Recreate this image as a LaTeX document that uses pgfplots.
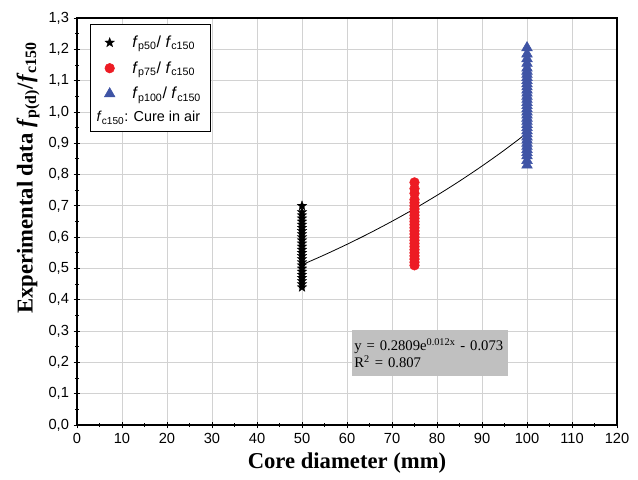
\documentclass[border=0pt]{standalone}
\usepackage{pgfplots}
\pgfplotsset{compat=1.18}
\usepackage{fontspec}
\setmainfont{Liberation Serif}
\setsansfont{Liberation Sans}
\newfontfamily\arial{Liberation Sans}
\definecolor{myred}{RGB}{237,28,36}
\definecolor{myblue}{RGB}{63,84,165}
\definecolor{boxgray}{RGB}{192,192,192}
\definecolor{gridgray}{RGB}{210,210,210}
\pgfdeclareplotmark{fstar}{%
  \pgfpathmoveto{\pgfpointpolar{90}{\pgfplotmarksize}}%
  \pgfpathlineto{\pgfpointpolar{126}{0.42\pgfplotmarksize}}%
  \pgfpathlineto{\pgfpointpolar{162}{\pgfplotmarksize}}%
  \pgfpathlineto{\pgfpointpolar{198}{0.42\pgfplotmarksize}}%
  \pgfpathlineto{\pgfpointpolar{234}{\pgfplotmarksize}}%
  \pgfpathlineto{\pgfpointpolar{270}{0.42\pgfplotmarksize}}%
  \pgfpathlineto{\pgfpointpolar{306}{\pgfplotmarksize}}%
  \pgfpathlineto{\pgfpointpolar{342}{0.42\pgfplotmarksize}}%
  \pgfpathlineto{\pgfpointpolar{18}{\pgfplotmarksize}}%
  \pgfpathlineto{\pgfpointpolar{54}{0.42\pgfplotmarksize}}%
  \pgfpathclose
  \pgfusepathqfillstroke
}
\begin{document}
\begin{tikzpicture}
\useasboundingbox (-57.75pt,-40.5pt) rectangle (420.75pt,318.75pt);
\begin{axis}[
  scale only axis, width=405pt, height=305.25pt,
  at={(0,0)}, anchor=south west,
  xmin=0, xmax=120, ymin=0, ymax=1.3,
  xtick={0,10,...,120},
  ytick={0,0.1,0.2,0.3,0.4,0.5,0.6,0.7,0.8,0.9,1.0,1.1,1.2,1.3},
  minor x tick num=1, minor y tick num=1,
  tick pos=left, tick align=center,
  major tick length=5pt, minor tick length=3pt,
  every tick/.style={black, line width=0.6pt},
  axis line style={black, line width=0.9pt},
  grid=major,
  major grid style={gridgray, line width=0.6pt},
  /pgf/number format/assume math mode=true,
  ticklabel style={font=\arial\fontsize{11}{13}\selectfont},
  yticklabel style={/pgf/number format/.cd, fixed, fixed zerofill, precision=1, use comma},
  xticklabel style={/pgf/number format/.cd, fixed, precision=0},
  xlabel={Core diameter (mm)},
  ylabel={Experimental data \textit{f}\textsubscript{p(d)}/\textit{f}\textsubscript{c150}},
  label style={font=\fontsize{17}{20}\selectfont\bfseries},
  ylabel style={at={(ticklabel cs:0.607)}},
  legend style={at={(axis cs:4.1,1.278)}, anchor=north west, draw=none, fill=none,
    font=\arial\fontsize{12}{14}\selectfont, row sep=5pt, column sep=11pt,
    inner xsep=6.5pt, inner ysep=6pt},
  legend cell align=left,
]
\addplot[only marks, mark=fstar, mark size=3.8pt, black, line width=0.2pt] coordinates {
(50,0.44)(50,0.45)(50,0.46)(50,0.47)(50,0.48)(50,0.49)(50,0.50)(50,0.51)(50,0.52)(50,0.53)(50,0.54)(50,0.55)(50,0.56)(50,0.57)(50,0.58)(50,0.59)(50,0.60)(50,0.61)(50,0.62)(50,0.63)(50,0.64)(50,0.65)(50,0.66)(50,0.67)(50,0.68)(50,0.70)
};
\addlegendentry{\textit{f}\textsubscript{p50}/ \textit{f}\textsubscript{c150}}
\addplot[only marks, mark=*, mark size=3.6pt, myred, mark options={draw=myred, fill=myred}] coordinates {
(75,0.51)(75,0.52)(75,0.53)(75,0.54)(75,0.55)(75,0.56)(75,0.57)(75,0.58)(75,0.59)(75,0.60)(75,0.61)(75,0.62)(75,0.63)(75,0.64)(75,0.65)(75,0.66)(75,0.67)(75,0.68)(75,0.69)(75,0.70)(75,0.71)(75,0.72)(75,0.74)(75,0.755)(75,0.775)
};
\addlegendentry{\textit{f}\textsubscript{p75}/ \textit{f}\textsubscript{c150}}
\addplot[only marks, mark=triangle*, mark size=4.6pt, myblue, mark options={draw=myblue, fill=myblue}] coordinates {
(100,0.83)(100,0.845)(100,0.86)(100,0.87)(100,0.88)(100,0.89)(100,0.90)(100,0.91)(100,0.92)(100,0.93)(100,0.94)(100,0.95)(100,0.96)(100,0.97)(100,0.98)(100,0.99)(100,1.00)(100,1.01)(100,1.02)(100,1.03)(100,1.04)(100,1.05)(100,1.06)(100,1.07)(100,1.08)(100,1.09)(100,1.10)(100,1.11)(100,1.12)(100,1.13)(100,1.14)(100,1.155)(100,1.17)(100,1.185)(100,1.205)
};
\addlegendentry{\textit{f}\textsubscript{p100}/ \textit{f}\textsubscript{c150}}
\addplot[black, line width=0.6pt, smooth, forget plot] coordinates {
(50,0.5118)(55,0.5435)(60,0.5771)(65,0.6128)(70,0.6507)(75,0.6909)(80,0.7336)(85,0.7790)(90,0.8272)(95,0.8783)(100,0.9326)
};
\filldraw[fill=white, draw=black, line width=0.7pt] (axis cs:3.1,1.278) rectangle (axis cs:29.6,0.936);
\node[anchor=base west, inner sep=0pt, font=\arial\fontsize{10.8}{13}\selectfont] at (axis cs:4.3,0.968)
  {\textit{f}\textsubscript{c150}: Cure in air};
\node[anchor=north west, fill=boxgray, inner sep=2pt, align=left, font=\fontsize{11}{13}\selectfont, text width=113pt, minimum height=34.5pt] at (axis cs:61,0.304)
  {y = 0.2809e\textsuperscript{0.012x} - 0.073\\R\textsuperscript{2} = 0.807};
\end{axis}
\end{tikzpicture}
\end{document}
